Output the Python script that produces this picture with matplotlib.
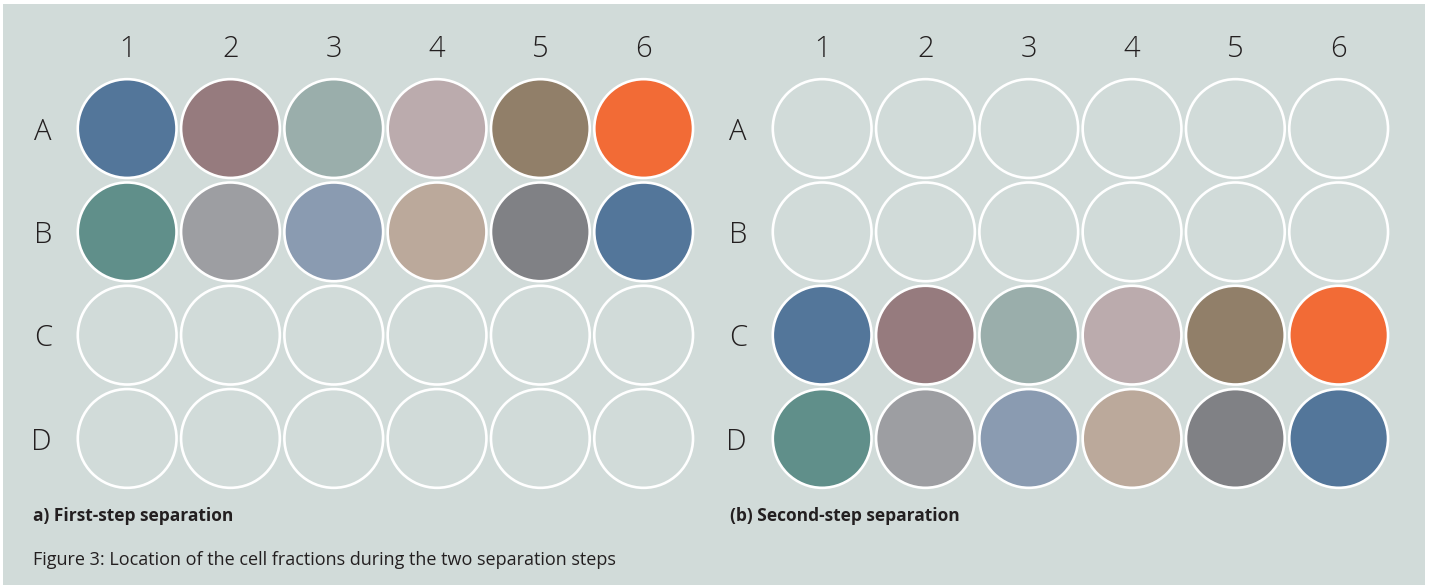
import matplotlib.pyplot as plt
from matplotlib.patches import Circle, Rectangle

# Plate layout
columns = ["1", "2", "3", "4", "5", "6"]
rows = ["A", "B", "C", "D"]

# Fraction colours, in well order (row by row)
fraction_row1 = ["#53769a", "#967b7e", "#9aaeab", "#bbabad", "#917f69", "#f26b36"]
fraction_row2 = ["#608f8a", "#9d9ea2", "#8a9bb1", "#bba99b", "#808185", "#53769a"]

# Which rows hold the fractions on each plate
plate_a_rows = {"A": fraction_row1, "B": fraction_row2}
plate_b_rows = {"C": fraction_row1, "D": fraction_row2}

title_a = "a) First-step separation"
title_b = "(b) Second-step separation"
caption = "Figure 3: Location of the cell fractions during the two separation steps"

BG = "#d1dbd9"
TEXT = "#231f20"
W, H = 1432, 585

fig = plt.figure(figsize=(W / 100, H / 100), dpi=100)
fig.patch.set_facecolor("white")
fig.patches.append(Rectangle((3 / W, 0), 1422 / W, 581 / H, transform=fig.transFigure,
                             facecolor=BG, edgecolor="none", zorder=-10))

cell = 103.3  # pixels per well


def DrawPlate(left_px, center_y_px, filled):
    width = len(columns) * cell
    height = len(rows) * cell
    ax = fig.add_axes([left_px / W, 1 - (center_y_px + height / 2) / H, width / W, height / H])
    ax.set_xlim(0.5, len(columns) + 0.5)
    ax.set_ylim(len(rows) + 0.5, 0.5)
    ax.set_facecolor("none")
    for s in ax.spines.values():
        s.set_visible(False)

    for r, row in enumerate(rows):
        colours = filled.get(row)
        for c in range(len(columns)):
            face = colours[c] if colours else "none"
            ax.add_patch(Circle((c + 1, r + 1), 0.478, facecolor=face, edgecolor="white",
                                linewidth=1.9))

    ax.xaxis.tick_top()
    ax.set_xticks(range(1, len(columns) + 1))
    ax.set_xticklabels(columns)
    ax.set_yticks(range(1, len(rows) + 1))
    ax.set_yticklabels(rows)
    ax.tick_params(length=0, labelsize=21, labelcolor=TEXT)
    ax.tick_params(axis="x", pad=9)
    ax.tick_params(axis="y", pad=17)
    for lab in ax.get_xticklabels() + ax.get_yticklabels():
        lab.set_fontfamily("Open Sans")
        lab.set_fontweight("light")
    return ax


DrawPlate(75.5, 283.5, plate_a_rows)
DrawPlate(770.5, 283.5, plate_b_rows)

fig.text(33 / W, 1 - 516 / H, title_a, fontsize=12.5, fontweight="bold", family="Open Sans",
         color=TEXT, va="center", ha="left")
fig.text(730 / W, 1 - 516 / H, title_b, fontsize=12.5, fontweight="bold", family="Open Sans",
         color=TEXT, va="center", ha="left")
fig.text(33 / W, 1 - 560 / H, caption, fontsize=13, family="Open Sans",
         color=TEXT, va="center", ha="left")

fig.savefig("out.png", dpi=100, facecolor=fig.get_facecolor())
